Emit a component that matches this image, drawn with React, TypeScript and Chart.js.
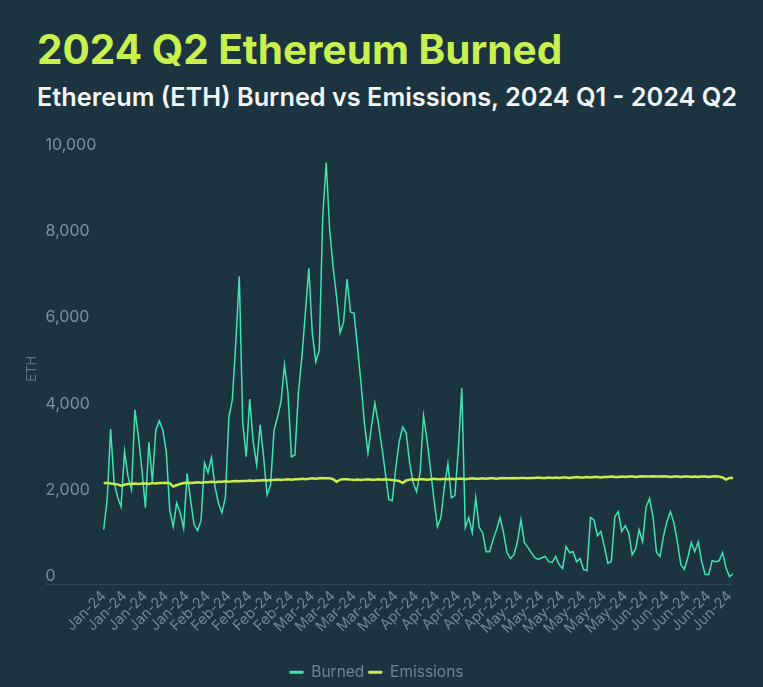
import React, { useEffect, useRef } from 'react';
import { Chart, registerables } from 'chart.js';

Chart.register(...registerables);

const TITLE = '2024 Q2 Ethereum Burned';
const SUBTITLE = 'Ethereum (ETH) Burned vs Emissions, 2024 Q1 - 2024 Q2';
const Y_TITLE = 'ETH';
const SERIES_NAMES = ['Burned', 'Emissions'];

// Daily categories: Jan 2 2024 .. Jul 1 2024, shown as "Mon-24"
const MONTH_LABELS = ['Jan-24', 'Feb-24', 'Mar-24', 'Apr-24', 'May-24', 'Jun-24', 'Jul-24'];
const DAYS_PER_MONTH = [30, 29, 31, 30, 31, 30, 1];
const LABEL_STEP = 6;
const Y_TICKS = [0, 2000, 4000, 6000, 8000, 10000];

const BURNED = [
  1270, 1960, 3600, 2360, 2030, 1800, 3080, 2500, 2200, 4050,
  3420, 2660, 1780, 3300, 2380, 3580, 3790, 3580, 3080, 1730,
  1340, 1890, 1660, 1300, 2570, 1960, 1390, 1250, 1480, 2820,
  2590, 2940, 2270, 1890, 1660, 2010, 3880, 4280, 5600, 7140,
  3740, 2960, 4300, 3310, 2770, 3700, 2960, 2080, 2310, 3580,
  3880, 4230, 5090, 4440, 2960, 3000, 4440, 5270, 6290, 7330,
  5830, 5160, 5430, 8510, 9780, 8210, 7350, 6660, 5830, 6080,
  7080, 6310, 6290, 5500, 4670, 3740, 3050, 3650, 4200, 3740,
  3190, 2590, 1970, 1940, 2700, 3310, 3650, 3510, 2820, 2360,
  2150, 2590, 3910, 3350, 2660, 1970, 1340, 1550, 2270, 2800,
  2010, 2060, 3120, 4550, 1320, 1550, 1200, 2010, 1320, 1200,
  760, 760, 1040, 1270, 1550, 1200, 740, 600, 690, 990,
  1500, 970, 860, 740, 620, 580, 620, 650, 530, 510,
  650, 460, 370, 880, 740, 760, 530, 600, 350, 320,
  1550, 1500, 1130, 1230, 880, 490, 530, 1570, 1690, 1230,
  1360, 1200, 690, 830, 1270, 990, 1800, 1990, 1570, 740,
  650, 1110, 1460, 1690, 1430, 990, 460, 350, 620, 970,
  760, 990, 530, 230, 230, 550, 530, 550, 740, 390,
  180, 250,
];

const EMISSIONS = [
  2350, 2350, 2340, 2330, 2320, 2290, 2310, 2330, 2330, 2340,
  2330, 2340, 2340, 2330, 2350, 2340, 2350, 2350, 2360, 2350,
  2270, 2300, 2330, 2350, 2360, 2350, 2360, 2370, 2360, 2370,
  2370, 2380, 2370, 2380, 2380, 2390, 2380, 2390, 2400, 2390,
  2400, 2400, 2410, 2400, 2410, 2410, 2420, 2410, 2420, 2420,
  2430, 2420, 2430, 2440, 2430, 2440, 2440, 2450, 2440, 2450,
  2460, 2450, 2460, 2470, 2460, 2460, 2440, 2380, 2430, 2440,
  2440, 2430, 2420, 2430, 2420, 2430, 2440, 2430, 2430, 2440,
  2430, 2440, 2430, 2420, 2410, 2400, 2350, 2410, 2430, 2440,
  2430, 2440, 2440, 2430, 2440, 2450, 2440, 2440, 2450, 2440,
  2450, 2440, 2450, 2450, 2440, 2450, 2460, 2450, 2450, 2460,
  2450, 2460, 2460, 2450, 2460, 2470, 2460, 2460, 2470, 2460,
  2470, 2470, 2460, 2470, 2470, 2480, 2470, 2470, 2480, 2470,
  2480, 2470, 2480, 2480, 2470, 2480, 2490, 2480, 2480, 2490,
  2480, 2490, 2490, 2480, 2490, 2490, 2500, 2490, 2490, 2500,
  2490, 2500, 2500, 2490, 2500, 2510, 2500, 2500, 2510, 2500,
  2500, 2510, 2500, 2490, 2500, 2500, 2490, 2500, 2500, 2490,
  2500, 2490, 2500, 2500, 2490, 2500, 2510, 2500, 2480, 2430,
  2470, 2470,
];

const CATEGORIES: string[] = MONTH_LABELS.flatMap((m, i) => Array(DAYS_PER_MONTH[i]).fill(m));

const BG = '#1c3440';
const BURNED_COLOR = '#3fe3b4';
const EMISSIONS_COLOR = '#c6ee4f';
const FONT = 'Inter, "Noto Sans", sans-serif';

const baselinePlugin = {
  id: 'zeroBaseline',
  beforeDatasetsDraw(chart: any) {
    const y = chart.scales.y;
    const area = chart.chartArea;
    const py = Math.round(y.getPixelForValue(0)) + 0.5;
    const ctx = chart.ctx;
    ctx.save();
    ctx.strokeStyle = '#2e4854';
    ctx.lineWidth = 1;
    ctx.beginPath();
    ctx.moveTo(y.left, py);
    ctx.lineTo(area.right, py);
    ctx.stroke();
    ctx.restore();
  },
};

export default function App() {
  const canvasRef = useRef<HTMLCanvasElement | null>(null);

  useEffect(() => {
    document.body.style.margin = '0';
    document.body.style.background = BG;
    const canvas = canvasRef.current;
    if (!canvas) return;
    const chart = new Chart(canvas, {
      type: 'line',
      data: {
        labels: CATEGORIES,
        datasets: [
          {
            label: SERIES_NAMES[0],
            data: BURNED,
            borderColor: BURNED_COLOR,
            backgroundColor: BURNED_COLOR,
            borderWidth: 1.5,
            pointRadius: 0,
            tension: 0,
            order: 1,
          },
          {
            label: SERIES_NAMES[1],
            data: EMISSIONS,
            borderColor: EMISSIONS_COLOR,
            backgroundColor: EMISSIONS_COLOR,
            borderWidth: 2.5,
            pointRadius: 0,
            tension: 0,
            order: 0,
          },
        ],
      },
      options: {
        responsive: false,
        animation: false,
        devicePixelRatio: 1,
        layout: { padding: { left: 20, right: 30, top: 33, bottom: 3 } },
        plugins: {
          tooltip: { enabled: false },
          legend: {
            position: 'bottom',
            title: { display: true, text: '', font: { size: 12 }, padding: { top: 0, bottom: 6 } },
            labels: {
              color: '#6c8791',
              font: { family: FONT, size: 15.5 },
              boxWidth: 14,
              boxHeight: 3,
              padding: 4,
              sort: (a: any, b: any) => a.datasetIndex - b.datasetIndex,
              generateLabels: (c: any) =>
                (Chart.defaults.plugins.legend.labels as any)
                  .generateLabels(c)
                  .map((l: any) => ({ ...l, lineWidth: 0 })),
            },
          },
        },
        scales: {
          x: {
            type: 'category',
            offset: false,
            grid: { display: false, drawTicks: false },
            border: { display: false },
            ticks: {
              autoSkip: false,
              maxRotation: 45,
              minRotation: 45,
              color: '#6f8a94',
              font: { family: FONT, size: 14.5 },
              padding: 3,
              callback: (_v: any, i: number) => (i % LABEL_STEP === 0 ? CATEGORIES[i] : null),
            },
          },
          y: {
            position: 'left',
            weight: 0,
            min: 0,
            max: 10000,
            afterBuildTicks: (s: any) => {
              s.ticks = Y_TICKS.map((v) => ({ value: v }));
            },
            grid: { display: false, drawTicks: false },
            border: { display: false },
            ticks: {
              color: '#7d919b',
              font: { family: FONT, size: 16 },
              padding: 3.7,
              crossAlign: 'far',
              labelOffset: -8,
              callback: (v: any) => Number(v).toLocaleString('en-US'),
            },
          },
          yTitle: {
            type: 'linear',
            position: 'left',
            weight: 1,
            display: true,
            grid: { display: false, drawTicks: false },
            border: { display: false },
            ticks: { display: false },
            title: {
              display: true,
              text: Y_TITLE,
              color: '#5f7a85',
              font: { family: FONT, size: 13 },
              padding: { top: 4, bottom: 6 },
            },
          },
        },
      },
      plugins: [baselinePlugin],
    } as any);
    return () => chart.destroy();
  }, []);

  return (
    <div
      style={{
        position: 'fixed',
        left: 0,
        top: 0,
        width: 763,
        height: 687,
        background: BG,
        overflow: 'hidden',
        fontFamily: FONT,
      }}
    >
      <div
        style={{
          position: 'absolute',
          left: 37,
          top: 26,
          fontSize: 40.5,
          fontWeight: 700,
          color: '#c8f04f',
          lineHeight: '48px',
          whiteSpace: 'nowrap',
        }}
      >
        {TITLE}
      </div>
      <div
        style={{
          position: 'absolute',
          left: 37,
          top: 82,
          fontSize: 25.3,
          fontWeight: 600,
          color: '#f3f6f7',
          lineHeight: '30px',
          whiteSpace: 'nowrap',
        }}
      >
        {SUBTITLE}
      </div>
      <canvas
        ref={canvasRef}
        width={763}
        height={573}
        style={{ position: 'absolute', left: 0, top: 120, width: 763, height: 573 }}
      />
    </div>
  );
}
